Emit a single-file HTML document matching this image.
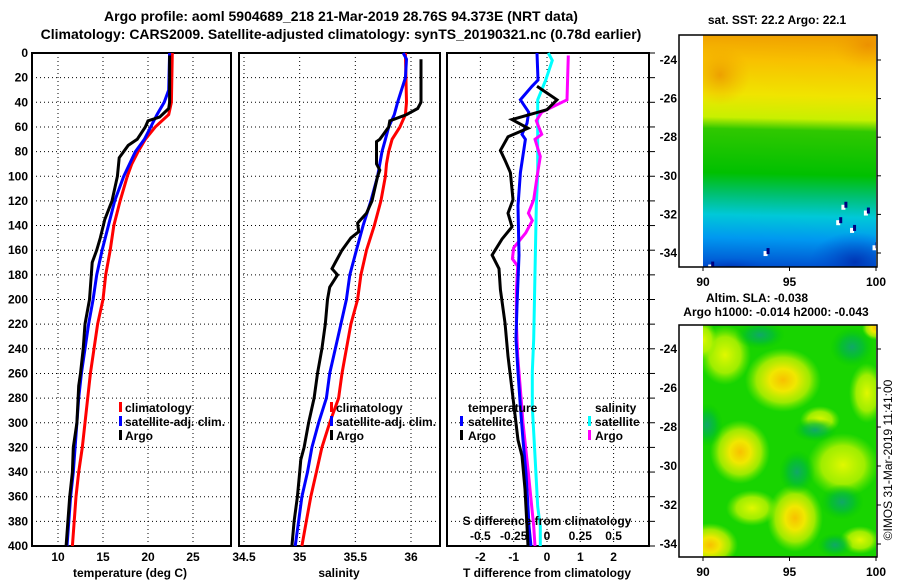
<!DOCTYPE html>
<html><head><meta charset="utf-8">
<style>
html,body{margin:0;padding:0;background:#fff;}
svg{display:block;font-family:"Liberation Sans",Arial,sans-serif;font-weight:bold;}
</style></head>
<body>
<svg id="chart" width="900" height="580" viewBox="0 0 900 580" xmlns="http://www.w3.org/2000/svg">
<defs>
<linearGradient id="sstGrad" gradientUnits="userSpaceOnUse" x1="790" y1="35" x2="785" y2="267">
<stop offset="0" stop-color="#f0a000"/>
<stop offset="0.11" stop-color="#f8c000"/>
<stop offset="0.26" stop-color="#f0e400"/>
<stop offset="0.36" stop-color="#c8f000"/>
<stop offset="0.41" stop-color="#30c800"/>
<stop offset="0.6" stop-color="#00c000"/>
<stop offset="0.69" stop-color="#00c070"/>
<stop offset="0.78" stop-color="#00c8d8"/>
<stop offset="0.88" stop-color="#0098f0"/>
<stop offset="1" stop-color="#0050d0"/>
</linearGradient>
<radialGradient id="blobY"><stop offset="0" stop-color="#f8c000"/><stop offset="0.35" stop-color="#f0e800"/><stop offset="0.7" stop-color="#c0f000" stop-opacity="0.8"/><stop offset="1" stop-color="#80f000" stop-opacity="0"/></radialGradient>
<radialGradient id="blobL"><stop offset="0" stop-color="#e0f800"/><stop offset="0.6" stop-color="#c0f400" stop-opacity="0.8"/><stop offset="1" stop-color="#80f000" stop-opacity="0"/></radialGradient>
<radialGradient id="blobD"><stop offset="0" stop-color="#10a868"/><stop offset="0.5" stop-color="#00b840" stop-opacity="0.7"/><stop offset="1" stop-color="#00c800" stop-opacity="0"/></radialGradient>
<radialGradient id="blobO"><stop offset="0" stop-color="#e88000" stop-opacity="0.6"/><stop offset="1" stop-color="#f0a000" stop-opacity="0"/></radialGradient>
<radialGradient id="blobB"><stop offset="0" stop-color="#0030b0" stop-opacity="0.9"/><stop offset="1" stop-color="#0050d0" stop-opacity="0"/></radialGradient>
</defs>
<g id="layer"></g>
</svg>
<script>
// ---- data ----
const tickDepths = [0,20,40,60,80,100,120,140,160,180,200,220,240,260,280,300,320,340,360,380,400];
const tempTicks = [10,15,20,25];
const salTicks = [34.5,35,35.5,36];
const tdiffTicks = [-2,-1,0,1,2];
const sdiffTicks = [-0.5,-0.25,0,0.25,0.5];

const tClimDepth = [0,40,50,60,70,80,90,100,120,140,160,180,200,220,240,260,280,300,320,340,360,380,400];
const tClimVal   = [22.7,22.6,22.3,20.8,19.7,18.9,18.2,17.7,16.9,16.2,15.8,15.3,15.0,14.4,14.0,13.6,13.3,13.0,12.7,12.3,12.0,11.8,11.6];
const tSatDepth = [0,30,40,50,60,70,80,100,120,140,160,180,200,220,240,260,280,300,320,340,360,380,400];
const tSatVal   = [22.4,22.3,21.8,21.0,20.3,19.6,18.6,17.3,16.3,15.6,14.9,14.3,13.9,13.4,13.0,12.6,12.3,12.1,11.9,11.7,11.4,11.2,11.0];
const tArgoDepth = [2,40,45,52,55,60,70,75,85,100,120,135,150,160,170,190,200,220,240,260,270,300,320,340,360,380,400];
const tArgoVal   = [22.4,22.4,22.3,21.3,20.0,19.7,18.8,17.8,16.8,16.6,16.0,15.2,14.7,14.3,13.8,13.6,13.5,13.0,12.8,12.5,12.3,12.1,11.7,11.6,11.3,11.1,10.9];

const sClimDepth = [0,40,50,60,70,80,90,100,120,140,160,180,200,220,240,260,280,300,320,340,360,380,400];
const sClimVal   = [35.95,35.96,35.95,35.9,35.83,35.8,35.78,35.77,35.73,35.67,35.6,35.55,35.52,35.46,35.42,35.38,35.35,35.27,35.2,35.15,35.1,35.06,35.02];
const sSatDepth = [0,5,20,40,50,60,70,80,100,120,140,160,180,200,220,240,260,280,300,320,340,360,380,400];
const sSatVal   = [35.93,35.96,35.95,35.88,35.85,35.8,35.77,35.74,35.7,35.64,35.57,35.51,35.45,35.42,35.37,35.32,35.27,35.24,35.17,35.11,35.07,35.02,34.99,34.96];
const sArgoDepth = [5,40,45,50,55,60,70,72,80,90,95,100,120,130,138,145,150,160,170,175,180,190,200,220,240,260,280,300,320,330,340,360,380,400];
const sArgoVal   = [36.09,36.09,36.06,35.96,35.81,35.8,35.72,35.69,35.69,35.69,35.72,35.7,35.65,35.6,35.52,35.53,35.46,35.38,35.32,35.29,35.34,35.27,35.25,35.23,35.2,35.16,35.13,35.08,35.04,35.01,35.0,34.98,34.95,34.93];

const dTSatDepth = [0,22,27,38,48,57,66,70,97,124,164,205,232,259,287,314,341,368,384,400];
const dTSatVal   = [-0.3,-0.27,-0.45,-0.8,-0.55,-0.6,-0.75,-0.65,-0.8,-0.87,-0.84,-0.9,-0.93,-0.87,-0.8,-0.72,-0.63,-0.57,-0.54,-0.48];
const dTArgoDepth = [27,38,46,54,61,68,79,87,97,119,130,141,151,164,175,192,219,246,273,314,327,354,384,400];
const dTArgoVal   = [-0.3,0.3,0,-1.05,-0.57,-1.17,-1.4,-1.26,-1.1,-1.02,-1.17,-1.05,-1.35,-1.65,-1.44,-1.4,-1.26,-1.17,-1.05,-0.87,-0.75,-0.66,-0.6,-0.57];
const dSSatDepth = [0,6,22,38,57,97,124,178,232,259,287,327,368,384,400];
const dSSatVal   = [0.01,0.04,-0.01,-0.07,-0.07,-0.07,-0.08,-0.09,-0.1,-0.11,-0.11,-0.09,-0.07,-0.05,-0.05];
const dSArgoDepth = [2,38,48,55,66,70,84,97,119,130,136,146,158,167,173,192,219,246,273,300,341,384,400];
const dSArgoVal   = [0.16,0.15,-0.04,-0.08,-0.04,-0.09,-0.05,-0.07,-0.1,-0.14,-0.11,-0.16,-0.25,-0.26,-0.22,-0.23,-0.23,-0.22,-0.2,-0.18,-0.14,-0.1,-0.09];

const mapLatTicks = [-24,-26,-28,-30,-32,-34];
const mapLonTicks = [90,95,100];

// ---- helpers ----
const NS="http://www.w3.org/2000/svg";
const root=document.getElementById('layer');
function mk(tag,attrs,parent){const e=document.createElementNS(NS,tag);for(const k in attrs)e.setAttribute(k,attrs[k]);(parent||root).appendChild(e);return e;}
function txt(x,y,s,anchor,size,parent){const t=mk('text',{x:x,y:y,'text-anchor':anchor||'middle','font-size':size||12,fill:'#000'},parent);t.textContent=s;return t;}

const TOP=53,BOT=546;
const yD=d=>TOP+d*(BOT-TOP)/400;
const xT=v=>58+(v-10)*9;
const xS=v=>244+(v-34.5)*111.33;
const xDT=v=>547+v*33.3;
const xDS=v=>547+v*133.2;

const panels=[{x0:32,x1:231,name:'temperature-panel'},{x0:239,x1:440,name:'salinity-panel'},{x0:447,x1:649,name:'difference-panel'}];

function drawPanel(p,vTicks,xf){
  const g=mk('g',{});
  
  
  tickDepths.forEach(d=>{ if(d>0&&d<400){const l=mk('line',{x1:p.x0,x2:p.x1,y1:yD(d),y2:yD(d),stroke:'#000','stroke-dasharray':'1,3','stroke-width':1},g);
    
    }});
  vTicks.forEach(v=>{const x=xf(v); if(x>p.x0+2&&x<p.x1-2){const l=mk('line',{x1:x,x2:x,y1:TOP,y2:BOT,stroke:'#000','stroke-dasharray':'1,3','stroke-width':1},g);
    
    }});
  const r=mk('rect',{x:p.x0,y:TOP,width:p.x1-p.x0,height:BOT-TOP,fill:'none',stroke:'#000','stroke-width':2},g);
  
  
  return g;
}
drawPanel(panels[0],tempTicks,xT);
drawPanel(panels[1],salTicks,xS);
drawPanel(panels[2],tdiffTicks,xDT);

function series(depths,vals,xf,color,name){
  const pts=depths.map((d,i)=>xf(vals[i]).toFixed(1)+','+yD(d).toFixed(1)).join(' ');
  const pl=mk('polyline',{points:pts,fill:'none',stroke:color,'stroke-width':3,'stroke-linejoin':'miter'});
  
  
}
series(tClimDepth,tClimVal,xT,'#ff0000','temp-climatology-line');
series(tSatDepth,tSatVal,xT,'#0000ff','temp-satellite-line');
series(tArgoDepth,tArgoVal,xT,'#000000','temp-argo-line');
series(sClimDepth,sClimVal,xS,'#ff0000','sal-climatology-line');
series(sSatDepth,sSatVal,xS,'#0000ff','sal-satellite-line');
series(sArgoDepth,sArgoVal,xS,'#000000','sal-argo-line');
series(dSSatDepth,dSSatVal,xDS,'#00ffff','sdiff-satellite-line');
series(dSArgoDepth,dSArgoVal,xDS,'#ff00ff','sdiff-argo-line');
series(dTSatDepth,dTSatVal,xDT,'#0000ff','tdiff-satellite-line');
series(dTArgoDepth,dTArgoVal,xDT,'#000000','tdiff-argo-line');

tickDepths.forEach(d=>{
  const t=txt(28,yD(d)+4,String(d),'end',12);
  
  
  const k=mk('line',{x1:649,x2:655,y1:yD(d),y2:yD(d),stroke:'#000','stroke-width':1});
  
  
});
tempTicks.forEach(v=>{const t=txt(xT(v),561,String(v),'middle',12);
  
  });
salTicks.forEach(v=>{const t=txt(xS(v),561,String(v),'middle',12);
  
  });
tdiffTicks.forEach(v=>{const t=txt(xDT(v),561,String(v),'middle',12);
  
  });
sdiffTicks.forEach(v=>{const t=txt(xDS(v),540,String(v),'middle',12);
  
  });

// ---- maps ----
function mapGroup(name){
  const g=mk('g',{});
  
  
  return g;
}
const lonX=l=>703+(l-90)*17.3;
const lat1=l=>60+(-24-l)*19.3;
const lat2=l=>349+(-24-l)*19.5;

const m1=mapGroup('sst-map');
const clip1=mk('clipPath',{id:'clip1'},m1);
mk('rect',{x:703,y:35,width:173,height:232},clip1);
const in1=mk('g',{'clip-path':'url(#clip1)'},m1);
mk('rect',{x:703,y:35,width:173,height:232,fill:'url(#sstGrad)'},in1);
mk('ellipse',{cx:720,cy:75,rx:30,ry:30,fill:'url(#blobO)'},in1);
mk('ellipse',{cx:868,cy:45,rx:35,ry:25,fill:'url(#blobO)'},in1);
mk('ellipse',{cx:855,cy:262,rx:45,ry:30,fill:'url(#blobB)'},in1);
mk('ellipse',{cx:730,cy:268,rx:40,ry:10,fill:'url(#blobB)'},in1);
[[98,-31.5],[99.3,-31.8],[97.7,-32.3],[98.5,-32.7],[93.5,-33.9],[99.8,-33.6],[100,-32.1],[90.3,-34.6]].forEach(p=>{
  mk('rect',{x:lonX(p[0]),y:lat1(p[1]),width:4,height:5,fill:'#fff'},in1);
  mk('rect',{x:lonX(p[0])+3,y:lat1(p[1])-3,width:3,height:6,fill:'#000080'},in1);
});
mk('rect',{x:679,y:35,width:198,height:232,fill:'none',stroke:'#000','stroke-width':1.5},m1);

const m2=mapGroup('sla-map');
const clip=mk('clipPath',{id:'clip2'},m2);
mk('rect',{x:703,y:325,width:173,height:232},clip);
const inner=mk('g',{'clip-path':'url(#clip2)'},m2);
mk('rect',{x:703,y:325,width:173,height:232,fill:'#18d400'},inner);
const lightBlobs=[[725,355,26,30],[843,465,36,32],[867,393,18,30],[752,508,26,18],[820,420,20,14],[703,340,14,20],[860,540,20,14]];
lightBlobs.forEach(b=>mk('ellipse',{cx:b[0],cy:b[1],rx:b[2],ry:b[3],fill:'url(#blobL)'},inner));
const yellowBlobs=[[783,380,38,32],[740,452,30,32],[795,518,28,34],[710,545,28,22],[876,328,14,12]];
yellowBlobs.forEach(b=>mk('ellipse',{cx:b[0],cy:b[1],rx:b[2],ry:b[3],fill:'url(#blobY)'},inner));
const darkBlobs=[[852,347,22,20],[707,425,16,22],[797,472,18,22],[842,502,22,18],[760,335,25,14],[815,430,22,12],[835,545,18,12]];
darkBlobs.forEach(b=>mk('ellipse',{cx:b[0],cy:b[1],rx:b[2],ry:b[3],fill:'url(#blobD)'},inner));
mk('rect',{x:679,y:325,width:198,height:232,fill:'none',stroke:'#000','stroke-width':1.5},m2);

mapLatTicks.forEach(l=>{
  let t=txt(677,lat1(l)+4,String(l),'end',12);
  
  
  t=txt(677,lat2(l)+4,String(l),'end',12);
  
  
  mk('line',{x1:877,x2:881,y1:lat1(l),y2:lat1(l),stroke:'#000'});
  mk('line',{x1:877,x2:881,y1:lat2(l),y2:lat2(l),stroke:'#000'});
});
mapLonTicks.forEach(l=>{
  let t=txt(lonX(l),286,String(l),'middle',12);
  
  
  t=txt(lonX(l),576,String(l),'middle',12);
  
  
  mk('line',{x1:lonX(l),x2:lonX(l),y1:267,y2:271,stroke:'#000'});
  mk('line',{x1:lonX(l),x2:lonX(l),y1:557,y2:561,stroke:'#000'});
});
</script>
<svg width="900" height="580" style="position:absolute;left:0;top:0;font-family:'Liberation Sans',Arial,sans-serif;font-weight:bold;" xmlns="http://www.w3.org/2000/svg">
<text x="341" y="21" text-anchor="middle" font-size="14">Argo profile: aoml 5904689_218 21-Mar-2019 28.76S 94.373E (NRT data)</text>
<text x="341" y="39" text-anchor="middle" font-size="14">Climatology: CARS2009. Satellite-adjusted climatology: synTS_20190321.nc (0.78d earlier)</text>
<text x="130" y="577" text-anchor="middle" font-size="12">temperature (deg C)</text>
<text x="339" y="577" text-anchor="middle" font-size="12">salinity</text>
<text x="547" y="577" text-anchor="middle" font-size="12">T difference from climatology</text>
<text x="547" y="525" text-anchor="middle" font-size="12">S difference from climatology</text>
<g>
<rect x="119" y="402" width="3" height="10" fill="#f00"/><text x="125" y="412" font-size="12">climatology</text>
<rect x="119" y="416" width="3" height="10" fill="#00f"/><text x="125" y="426" font-size="12">satellite-adj. clim.</text>
<rect x="119" y="430" width="3" height="10" fill="#000"/><text x="125" y="440" font-size="12">Argo</text>
</g>
<g>
<rect x="330" y="402" width="3" height="10" fill="#f00"/><text x="336" y="412" font-size="12">climatology</text>
<rect x="330" y="416" width="3" height="10" fill="#00f"/><text x="336" y="426" font-size="12">satellite-adj. clim.</text>
<rect x="330" y="430" width="3" height="10" fill="#000"/><text x="336" y="440" font-size="12">Argo</text>
</g>
<g>
<text x="468" y="412" font-size="12">temperature</text>
<rect x="460" y="416" width="3" height="10" fill="#00f"/><text x="468" y="426" font-size="12">satellite</text>
<rect x="460" y="430" width="3" height="10" fill="#000"/><text x="468" y="440" font-size="12">Argo</text>
<text x="595" y="412" font-size="12">salinity</text>
<rect x="588" y="416" width="3" height="10" fill="#0ff"/><text x="595" y="426" font-size="12">satellite</text>
<rect x="588" y="430" width="3" height="10" fill="#f0f"/><text x="595" y="440" font-size="12">Argo</text>
</g>
<text x="777" y="24" text-anchor="middle" font-size="12">sat. SST: 22.2 Argo: 22.1</text>
<text x="757" y="302" text-anchor="middle" font-size="12">Altim. SLA: -0.038</text>
<text x="776" y="316" text-anchor="middle" font-size="12">Argo h1000: -0.014 h2000: -0.043</text>
<text x="892" y="460" text-anchor="middle" font-size="12" font-weight="normal" transform="rotate(-90 892 460)">©IMOS 31-Mar-2019 11:41:00</text>
</svg>
</body></html>
